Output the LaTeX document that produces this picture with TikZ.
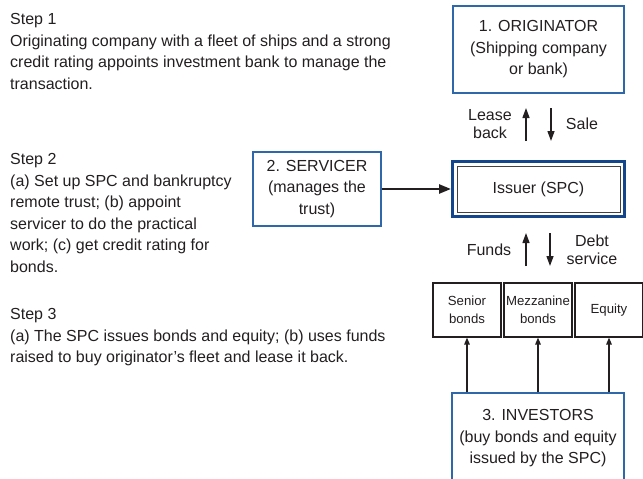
\documentclass[tikz,border=0pt]{standalone}
\usepackage{fontspec}
\setmainfont{Liberation Sans}
\usepackage{tikz}
\usetikzlibrary{positioning,arrows.meta,fit}
\definecolor{boxblue}{RGB}{46,104,170}
\definecolor{deepblue}{RGB}{20,70,140}
\definecolor{inkgray}{RGB}{35,31,32}
\tikzset{
  partybox/.style={draw=boxblue, line width=1.4pt, align=center, inner sep=2pt,
                   font=\fontsize{16}{21.5}\selectfont, text=inkgray},
  tranche/.style ={draw=inkgray, line width=1.1pt, align=center, inner sep=1pt,
                   minimum width=68pt, minimum height=54pt,
                   font=\fontsize{13.2}{18}\selectfont, text=inkgray},
  steptxt/.style ={anchor=north west, align=left, inner sep=0pt,
                   font=\fontsize{16}{21.5}\selectfont, text=inkgray},
  flowlbl/.style ={align=center, inner sep=0pt,
                   font=\fontsize{16}{18.5}\selectfont, text=inkgray},
  flow/.style    ={-{Triangle[length=10pt,width=7pt]}, draw=inkgray, line width=1.3pt},
  buy/.style     ={-{Triangle[length=7pt,width=5.5pt]}, draw=inkgray, line width=1.3pt},
  feed/.style    ={-{Triangle[length=12pt,width=9pt]}, draw=inkgray, line width=2.4pt},
}
\begin{document}
\begin{tikzpicture}[x=1pt,y=-1pt]
\useasboundingbox (0,0) rectangle (643,479);

% steps on the left
\node[steptxt] (step1) at (10,13.5) {Step 1\\
  Originating company with a fleet of ships and a strong\\
  credit rating appoints investment bank to manage the\\
  transaction.};
\node[steptxt] (step2) at (10,153.5) {Step 2\\
  (a) Set up SPC and bankruptcy\\
  remote trust; (b) appoint\\
  servicer to do the practical\\
  work; (c) get credit rating for\\
  bonds.};
\node[steptxt] (step3) at (10,308.5) {Step 3\\
  (a) The SPC issues bonds and equity; (b) uses funds\\
  raised to buy originator's fleet and lease it back.};

% parties
\node[partybox, minimum width=171pt, minimum height=87pt] (originator) at (538.5,49.5)
  {1. ORIGINATOR\\(Shipping company\\or bank)};
\node[partybox, minimum width=128pt, minimum height=74pt] (servicer) at (317,189)
  {2. SERVICER\\(manages the\\trust)};
\node[partybox, minimum width=172pt, minimum height=91pt] (investors) at (538,438.5)
  {3. INVESTORS\\(buy bonds and equity\\issued by the SPC)};

% issuer, double frame
\node[draw=inkgray!85, line width=1pt, minimum width=163pt, minimum height=46pt,
      font=\fontsize{16}{21}\selectfont, text=inkgray] (issuer) at (538.5,189) {Issuer (SPC)};
\node[draw=deepblue, line width=3pt, inner sep=4pt, fit=(issuer)] (issuerbox) {};
\draw[feed] (servicer.east) -- (servicer.east -| issuerbox.west);

% sale and lease back
\coordinate (lbtop) at (526,108);  \coordinate (lbbot) at (526,141);
\coordinate (satop) at (551,108);  \coordinate (sabot) at (551,141);
\draw[flow] (lbbot) -- (lbtop);
\draw[flow] (satop) -- (sabot);
\node[flowlbl] (leaselbl) at (490,124) {Lease\\back};
\node[flowlbl] (salelbl) at (582,124) {Sale};

% funds and debt service
\coordinate (fdtop) at (526,233);  \coordinate (fdbot) at (526,266);
\coordinate (dstop) at (550,233);  \coordinate (dsbot) at (550,266);
\draw[flow] (fdbot) -- (fdtop);
\draw[flow] (dstop) -- (dsbot);
\node[flowlbl] (fundslbl) at (489,250) {Funds};
\node[flowlbl] (debtlbl) at (592,250) {Debt\\service};

% tranches
\node[tranche] (senior) at (467,310) {Senior\\bonds};
\node[tranche] (mezz) at (538,310) {Mezzanine\\bonds};
\node[tranche] (equity) at (609,310) {Equity};
\foreach \t in {senior,mezz,equity}
  \draw[buy] (investors.north -| \t.south) -- (\t.south);
\end{tikzpicture}
\end{document}
